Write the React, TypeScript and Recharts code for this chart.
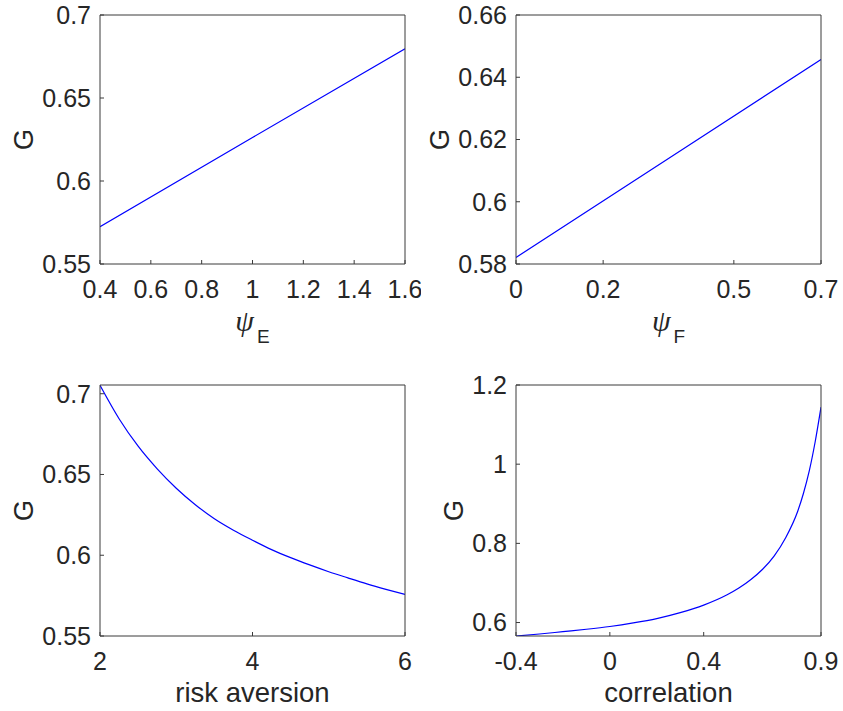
import { LineChart, Line, XAxis, YAxis } from 'recharts';

// values
const psiEValues = [0.4, 1.0, 1.6];
const gByPsiE = [0.5725, 0.6262, 0.6797];

const psiFValues = [0, 0.35, 0.7];
const gByPsiF = [0.5821, 0.6139, 0.6457];

const riskAversion = [2, 2.25, 2.5, 2.75, 3, 3.25, 3.5, 3.75, 4, 4.25, 4.5, 4.75, 5, 5.25, 5.5, 5.75, 6];
const gByRisk = [0.7052, 0.6845, 0.6675, 0.6535, 0.6415, 0.6313, 0.6226, 0.6155, 0.6093, 0.6035, 0.5985, 0.594, 0.5898, 0.586, 0.5823, 0.5789, 0.5757];

const correlation = [-0.4, -0.3, -0.2, -0.1, 0, 0.1, 0.2, 0.3, 0.4, 0.5, 0.55, 0.6, 0.65, 0.7, 0.75, 0.8, 0.825, 0.85, 0.875, 0.9];
const gByCorr = [0.566, 0.571, 0.577, 0.583, 0.59, 0.599, 0.61, 0.625, 0.644, 0.67, 0.687, 0.708, 0.734, 0.768, 0.815, 0.88, 0.926, 0.983, 1.056, 1.144];

const psiETicks = [0.4, 0.6, 0.8, 1, 1.2, 1.4, 1.6];
const psiFTicks = [0, 0.2, 0.5, 0.7];
const riskTicks = [2, 4, 6];
const corrTicks = [-0.4, 0, 0.4, 0.9];
const gTicksA = [0.55, 0.6, 0.65, 0.7];
const gTicksB = [0.58, 0.6, 0.62, 0.64, 0.66];
const gTicksD = [0.6, 0.8, 1, 1.2];

const TEXT = '#262626';
const AXIS = '#3a3a3a';
const SANS = '"Liberation Sans", Arial, Helvetica, sans-serif';

const toRows = (xs: number[], ys: number[]) => xs.map((x, i) => ({ x, g: ys[i] }));
const fmt = (v: number) => String(v);
const tickStyle = { fontFamily: SANS, fontSize: 25, fill: TEXT };

const gLabel = (offset: number) => (props: any) => {
  const vb = props.viewBox;
  const cx = vb.x + vb.width - offset;
  const cy = vb.y + vb.height / 2;
  return (
    <text x={cx} y={cy} transform={`rotate(-90 ${cx} ${cy})`} textAnchor="middle"
      dominantBaseline="central" fontFamily={SANS} fontSize={27.5} fill={TEXT}>
      G
    </text>
  );
};

const psiLabel = (sub: string) => (props: any) => {
  const vb = props.viewBox;
  return (
    <text x={vb.x + vb.width / 2} y={vb.y + 67} textAnchor="middle" fill={TEXT}>
      <tspan fontFamily='"Liberation Serif", serif' fontStyle="italic" fontSize={30}>ψ</tspan>
      <tspan fontFamily={SANS} fontSize={19} dx={3} dy={12}>{sub}</tspan>
    </text>
  );
};

const textLabel = (value: string) => (props: any) => {
  const vb = props.viewBox;
  return (
    <text x={vb.x + vb.width / 2} y={vb.y + 66} textAnchor="middle" fontFamily={SANS} fontSize={27.5} fill={TEXT}>
      {value}
    </text>
  );
};

interface PanelProps {
  rows: { x: number; g: number }[];
  xDomain: [number, number];
  xTicks: number[];
  yDomain: [number, number];
  yTicks: number[];
  left: number;
  top: number;
  width: number;
  height: number;
  margin: { top: number; right: number; bottom: number; left: number };
  xLabel: any;
  gOffset: number;
  curve: 'linear' | 'monotone';
}

function Panel(p: PanelProps) {
  return (
    <div style={{ position: 'absolute', left: p.left, top: p.top }}>
      <LineChart width={p.width} height={p.height} data={p.rows} margin={p.margin}>
        <XAxis xAxisId="b" dataKey="x" type="number" domain={p.xDomain} ticks={p.xTicks} allowDataOverflow
          interval={0} tick={tickStyle} tickFormatter={fmt} tickSize={-4} tickMargin={20} height={30}
          stroke={AXIS} label={p.xLabel} />
        <XAxis xAxisId="t" orientation="top" dataKey="x" type="number" domain={p.xDomain} ticks={p.xTicks}
          allowDataOverflow interval={0} tick={false} tickSize={-4} height={5} stroke={AXIS} />
        <YAxis yAxisId="l" type="number" domain={p.yDomain} ticks={p.yTicks} allowDataOverflow interval={0}
          tick={tickStyle} tickFormatter={fmt} tickSize={-4} tickMargin={13} width={60} stroke={AXIS}
          label={gLabel(p.gOffset)} />
        <YAxis yAxisId="r" orientation="right" type="number" domain={p.yDomain} ticks={p.yTicks}
          allowDataOverflow interval={0} tick={false} tickSize={-4} width={5} stroke={AXIS} />
        <Line xAxisId="b" yAxisId="l" dataKey="g" type={p.curve} stroke="#0000ff" strokeWidth={1.2}
          dot={false} isAnimationActive={false} />
      </LineChart>
    </div>
  );
}

export default function App() {
  const topMargin = { top: 10, bottom: 61 };
  const bottomMargin = { top: 25, bottom: 45 };
  return (
    <div style={{ position: 'absolute', left: 0, top: 0, width: 843, height: 711, background: '#fff' }}>
      <Panel rows={toRows(psiEValues, gByPsiE)} xDomain={[0.4, 1.6]} xTicks={psiETicks} yDomain={[0.55, 0.7]}
        yTicks={gTicksA} left={0} top={0} width={421} height={355}
        margin={{ ...topMargin, left: 40, right: 11 }} xLabel={psiLabel('E')} gOffset={77} curve="linear" />
      <Panel rows={toRows(psiFValues, gByPsiF)} xDomain={[0, 0.7]} xTicks={psiFTicks} yDomain={[0.58, 0.66]}
        yTicks={gTicksB} left={421} top={0} width={422} height={355}
        margin={{ ...topMargin, left: 35, right: 17 }} xLabel={psiLabel('F')} gOffset={77} curve="linear" />
      <Panel rows={toRows(riskAversion, gByRisk)} xDomain={[2, 6]} xTicks={riskTicks} yDomain={[0.55, 0.7054]}
        yTicks={gTicksA} left={0} top={355} width={421} height={356}
        margin={{ ...bottomMargin, left: 40, right: 11 }} xLabel={textLabel('risk aversion')} gOffset={77}
        curve="monotone" />
      <Panel rows={toRows(correlation, gByCorr)} xDomain={[-0.4, 0.9]} xTicks={corrTicks} yDomain={[0.566, 1.2]}
        yTicks={gTicksD} left={421} top={355} width={422} height={356}
        margin={{ ...bottomMargin, left: 35, right: 17 }} xLabel={textLabel('correlation')} gOffset={63}
        curve="monotone" />
    </div>
  );
}
